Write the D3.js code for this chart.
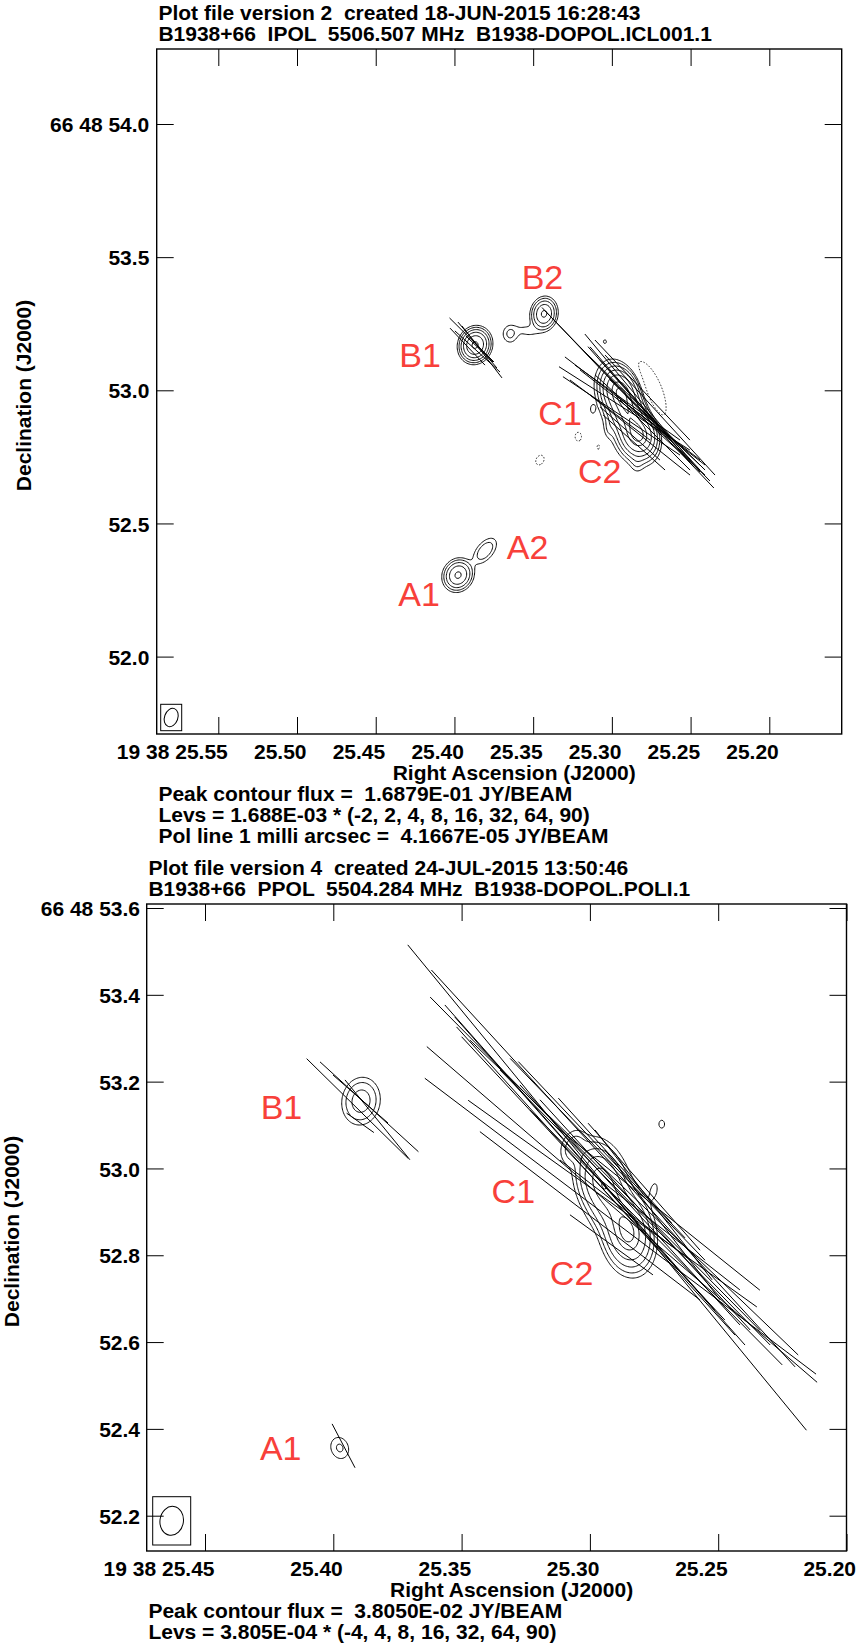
<!DOCTYPE html>
<html>
<head>
<meta charset="utf-8">
<title>B1938+66 polarisation maps</title>
<script src="https://cdn.jsdelivr.net/npm/d3@7/dist/d3.min.js"></script>
<style>
  html, body { margin: 0; padding: 0; background: #fff; }
  svg { display: block; }
  .txt { font-family: "Liberation Sans", Arial, Helvetica, sans-serif; font-weight: bold; font-size: 21px; fill: #000; white-space: pre; }
  .tag { font-family: "Liberation Sans", Arial, Helvetica, sans-serif; font-size: 34px; fill: #f8403a; }
</style>
</head>
<body>
<svg id="chart" width="857" height="1646"></svg>
<script>
// ===== Map 1: total intensity (IPOL) with polarisation vectors =====
const ipolHeader = ["Plot file version 2  created 18-JUN-2015 16:28:43",
                    "B1938+66  IPOL  5506.507 MHz  B1938-DOPOL.ICL001.1"];
const ipolRaTicks = [25.55, 25.50, 25.45, 25.40, 25.35, 25.30, 25.25, 25.20];
const ipolRaLabels = ["19 38 25.55", "25.50", "25.45", "25.40", "25.35", "25.30", "25.25", "25.20"];
const ipolDecTicks = [54.0, 53.5, 53.0, 52.5, 52.0];
const ipolDecLabels = ["66 48 54.0", "53.5", "53.0", "52.5", "52.0"];
const ipolFooter = ["Peak contour flux =  1.6879E-01 JY/BEAM",
                    "Levs = 1.688E-03 * (-2, 2, 4, 8, 16, 32, 64, 90)",
                    "Pol line 1 milli arcsec =  4.1667E-05 JY/BEAM"];
const ipolLevelUnit = 1.688e-3;
const ipolLevelSteps = [-2, 2, 4, 8, 16, 32, 64, 90];
// brightness components: RA (s), Dec (arcsec), peak (Jy/beam), FWHM major / minor (mas), PA (deg)
const ipolComponents = [
  [25.3869, 53.170, 0.120, 66, 58, -20],    // B1
  [25.3647, 53.211, 0.008, 53, 45, 0],      // knot in the B1-B2 bridge
  [25.3539, 53.223, 0.0042, 83, 45, 80],    // bridge
  [25.3431, 53.287, 0.060, 66, 52, -10],    // B2
  [25.2948, 52.994, 0.150, 105, 75, 18],    // C1
  [25.2898, 52.911, 0.110, 105, 75, 18],    // C1-C2 ridge
  [25.2834, 52.832, 0.1688, 95, 75, 15],    // C2
  [25.2900, 52.915, 0.006, 300, 150, 18],   // diffuse emission around C
  [25.2840, 52.730, 0.0045, 55, 36, 0],     // southern tail
  [25.3044, 53.183, 0.004, 23, 19, 0],
  [25.3122, 52.929, 0.0042, 34, 19, 0],
  [25.3018, 52.858, 0.0045, 53, 26, 0],
  [25.3977, 52.306, 0.060, 66, 58, -30],    // A1
  [25.3806, 52.397, 0.012, 83, 45, -40],    // A2
  [25.2771, 52.994, -0.007, 280, 113, 22],  // negative sidelobes
  [25.3213, 52.826, -0.0045, 53, 38, 0],
  [25.3086, 52.788, -0.0042, 45, 23, 0],
  [25.3457, 52.738, -0.0045, 60, 45, -30]
];
// polarisation vectors: RA (s), Dec (arcsec), length (mas), EVPA (deg)
const ipolVectors = [
  [25.3890, 53.189, 235, 45.3], [25.3917, 53.164, 191, 43.4], [25.3854, 53.170, 226, 40.3],
  [25.3854, 53.146, 229, 47.7], [25.3825, 53.144, 246, 37.6], [25.3841, 53.155, 141, 46.1],
  [25.2898, 52.972, 936, 43.6], [25.2901, 52.979, 890, 44.1], [25.2806, 52.952, 675, 39.8],
  [25.2815, 52.938, 602, 41.4], [25.2920, 52.932, 583, 57.5], [25.2939, 52.904, 529, 56.2],
  [25.2869, 52.932, 638, 52.7], [25.2796, 52.926, 643, 45.5], [25.2821, 52.947, 572, 41.0],
  [25.2885, 52.838, 301, 48.4], [25.2859, 52.804, 311, 48.4], [25.2901, 52.954, 485, 54.5],
  [25.2758, 52.870, 558, 47.7], [25.2726, 52.879, 465, 46.6], [25.3012, 52.926, 376, 53.1],
  [25.2726, 52.832, 372, 45.0], [25.2758, 52.907, 558, 42.3], [25.2821, 52.832, 481, 51.3],
  [25.2694, 52.907, 611, 42.5], [25.2917, 52.945, 428, 52.1], [25.2694, 52.851, 428, 52.1],
  [25.2806, 53.001, 518, 43.5]
];
const ipolBeam = [71, 50, -20];   // major, minor (mas), PA (deg)
const ipolTags = [["B1", 25.4350, 53.0886], ["B2", 25.3573, 53.3793], ["C1", 25.3467, 52.8697],
                  ["C2", 25.3215, 52.6508], ["A2", 25.3668, 52.3654], ["A1", 25.4357, 52.190]];

// ===== Map 2: polarised intensity (PPOL) with polarisation vectors =====
const ppolHeader = ["Plot file version 4  created 24-JUL-2015 13:50:46",
                    "B1938+66  PPOL  5504.284 MHz  B1938-DOPOL.POLI.1"];
const ppolRaTicks = [25.45, 25.40, 25.35, 25.30, 25.25, 25.20];
const ppolRaLabels = ["19 38 25.45", "25.40", "25.35", "25.30", "25.25", "25.20"];
const ppolDecTicks = [53.6, 53.4, 53.2, 53.0, 52.8, 52.6, 52.4, 52.2];
const ppolDecLabels = ["66 48 53.6", "53.4", "53.2", "53.0", "52.8", "52.6", "52.4", "52.2"];
const ppolFooter = ["Peak contour flux =  3.8050E-02 JY/BEAM",
                    "Levs = 3.805E-04 * (-4, 4, 8, 16, 32, 64, 90)"];
const ppolLevelUnit = 3.805e-4;
const ppolLevelSteps = [-4, 4, 8, 16, 32, 64, 90];
const ppolComponents = [
  [25.2953, 52.969, 0.032, 101, 62, 15],    // C1
  [25.2852, 52.851, 0.038, 97, 62, 10],     // C2
  [25.2902, 52.911, 0.012, 83, 65, 10],
  [25.3066, 53.049, 0.0045, 60, 41, -20],
  [25.2720, 53.102, 0.0019, 32, 23, 0],
  [25.2750, 52.950, 0.0019, 51, 23, -10],
  [25.3892, 53.155, 0.009, 69, 55, -10],    // B1
  [25.3975, 52.356, 0.0034, 46, 37, 20]     // A1
];
const ppolVectors = [
  [25.2933, 52.956, 1447, 39.4], [25.2909, 53.000, 1240, 42.5], [25.2980, 53.011, 1080, 44.7],
  [25.2875, 52.894, 1186, 49.3], [25.2881, 52.867, 1130, 52.9], [25.2961, 52.971, 1009, 41.5],
  [25.2977, 52.971, 957, 42.1], [25.2987, 52.977, 891, 42.9], [25.2912, 52.919, 818, 54.4],
  [25.3000, 52.891, 638, 52.6], [25.2931, 53.021, 646, 44.0], [25.2954, 53.043, 559, 43.4],
  [25.2902, 53.018, 389, 42.2], [25.2916, 52.824, 236, 54.1], [25.2789, 52.958, 390, 41.4],
  [25.2844, 52.916, 750, 42.5], [25.2785, 52.893, 718, 42.4], [25.2824, 52.910, 888, 44.5],
  [25.2752, 52.916, 438, 38.0], [25.2717, 52.870, 435, 37.5], [25.2863, 52.904, 378, 52.4],
  [25.3039, 53.025, 939, 41.5], [25.2828, 52.933, 1048, 46.2], [25.2742, 52.841, 826, 44.7],
  [25.2727, 52.904, 590, 51.3], [25.2688, 52.847, 410, 51.8],
  [25.3906, 53.138, 328, 45.5], [25.3860, 53.142, 307, 47.6], [25.3894, 53.160, 168, 48.9],
  [25.3895, 53.105, 77, 54.6], [25.3828, 53.112, 237, 39.1],
  [25.3960, 52.361, 114, 27.6]
];
const ppolBeam = [67, 54, -8];
const ppolTags = [["B1", 25.4283, 53.1131], ["C1", 25.3383, 52.9196],
                  ["C2", 25.3156, 52.7313], ["A1", 25.4286, 52.328]];

// ---------------------------------------------------------------------------
const svg = d3.select("#chart");
const FONT = '"Liberation Sans", Arial, Helvetica, sans-serif';

// Sum of elliptical Gaussians sampled on a pixel grid covering the frame
function brightnessGrid(comps, x, y, f, step) {
  const nx = Math.ceil((f.right - f.left) / step) + 1;
  const ny = Math.ceil((f.bottom - f.top) / step) + 1;
  const vals = new Float64Array(nx * ny);
  const masPerPx = Math.abs(y.invert(0) - y.invert(1)) * 1000;
  const k = 4 * Math.LN2;
  for (const [ra, dec, peak, maj, min, pa] of comps) {
    const cx = x(ra), cy = y(dec);
    const t = pa * Math.PI / 180, s = Math.sin(t), c = Math.cos(t);
    const reach = 2.4 * maj / masPerPx;
    const i0 = Math.max(0, Math.floor((cx - reach - f.left) / step));
    const i1 = Math.min(nx - 1, Math.ceil((cx + reach - f.left) / step));
    const j0 = Math.max(0, Math.floor((cy - reach - f.top) / step));
    const j1 = Math.min(ny - 1, Math.ceil((cy + reach - f.top) / step));
    for (let j = j0; j <= j1; j++) {
      const n = (cy - (f.top + j * step)) * masPerPx;
      for (let i = i0; i <= i1; i++) {
        const e = (cx - (f.left + i * step)) * masPerPx;
        const u = e * s + n * c, v = e * c - n * s;
        vals[i + j * nx] += peak * Math.exp(-k * (u * u / (maj * maj) + v * v / (min * min)));
      }
    }
  }
  return { vals, nx, ny, masPerPx };
}

function drawMap(d, cfg) {
  const f = cfg.frame;
  const x = d3.scaleLinear().domain([d.raTicks[0], d.raTicks[d.raTicks.length - 1]]).range(cfg.raRange);
  const y = d3.scaleLinear().domain([d.decTicks[0], d.decTicks[d.decTicks.length - 1]]).range(cfg.decRange);
  const g = svg.append("g");

  const clipId = "clip-" + cfg.id;
  g.append("clipPath").attr("id", clipId).append("rect")
    .attr("x", f.left).attr("y", f.top).attr("width", f.right - f.left).attr("height", f.bottom - f.top);
  const plot = g.append("g").attr("clip-path", `url(#${clipId})`);

  // contour map
  const step = 1.25;
  const grid = brightnessGrid(d.components, x, y, f, step);
  const toPx = d3.geoTransform({
    point(px, py) { this.stream.point(f.left + (px - 0.5) * step, f.top + (py - 0.5) * step); }
  });
  const path = d3.geoPath(toPx);
  const posLevels = d.levelSteps.filter(s => s > 0).map(s => s * d.levelUnit);
  const negLevels = d.levelSteps.filter(s => s < 0).map(s => -s * d.levelUnit);
  const contours = d3.contours().size([grid.nx, grid.ny]);
  plot.append("g").selectAll("path")
    .data(contours.thresholds(posLevels)(Array.from(grid.vals)))
    .join("path").attr("d", path)
    .attr("fill", "none").attr("stroke", "#000").attr("stroke-width", 0.95);
  plot.append("g").selectAll("path")
    .data(contours.thresholds(negLevels)(Array.from(grid.vals, v => -v)))
    .join("path").attr("d", path)
    .attr("fill", "none").attr("stroke", "#000").attr("stroke-width", 0.8)
    .attr("stroke-dasharray", "1.6,1.6");

  // polarisation vectors
  plot.append("g").selectAll("line").data(d.vectors).join("line")
    .each(function ([ra, dec, len, pa]) {
      const cx = x(ra), cy = y(dec), h = len / grid.masPerPx / 2;
      const t = pa * Math.PI / 180, ux = -Math.sin(t), uy = -Math.cos(t);
      d3.select(this).attr("x1", cx + ux * h).attr("y1", cy + uy * h)
        .attr("x2", cx - ux * h).attr("y2", cy - uy * h);
    })
    .attr("stroke", "#000").attr("stroke-width", 1);

  // restoring beam in its box
  const b = cfg.beamBox;
  const bx = f.left + b.inset[0], by = f.bottom - b.inset[1] - b.h;
  g.append("rect").attr("x", bx).attr("y", by).attr("width", b.w).attr("height", b.h)
    .attr("fill", "none").attr("stroke", "#000").attr("stroke-width", 1);
  g.append("ellipse").attr("cx", 0).attr("cy", 0)
    .attr("rx", d.beam[1] / grid.masPerPx / 2).attr("ry", d.beam[0] / grid.masPerPx / 2)
    .attr("transform", `translate(${bx + b.w / 2},${by + b.h / 2}) rotate(${-d.beam[2]})`)
    .attr("fill", "none").attr("stroke", "#000").attr("stroke-width", 1);

  // component names
  g.append("g").selectAll("text").data(d.tags).join("text")
    .attr("class", "tag").attr("x", t => x(t[1])).attr("y", t => y(t[2])).text(t => t[0]);

  // axes: inward ticks on all four sides, labels on bottom and left
  const T = 17;
  const styleAxis = sel => {
    sel.select(".domain").remove();
    sel.attr("font-family", FONT).attr("font-size", 21).attr("font-weight", "bold");
    sel.selectAll(".tick line").attr("stroke", "#000").attr("stroke-width", 1);
    sel.selectAll(".tick text").attr("fill", "#000");
  };
  g.append("g").attr("transform", `translate(0,${f.bottom})`)
    .call(d3.axisBottom(x).tickValues(d.raTicks).tickFormat((v, i) => d.raLabels[i])
      .tickSizeInner(-T).tickSizeOuter(0).tickPadding(10.4))
    .call(styleAxis)
    .call(a => a.selectAll(".tick text").attr("text-anchor", "end").attr("x", 9));
  g.append("g").attr("transform", `translate(0,${f.top})`)
    .call(d3.axisTop(x).tickValues(d.raTicks).tickFormat(() => "").tickSizeInner(-T).tickSizeOuter(0))
    .call(styleAxis);
  g.append("g").attr("transform", `translate(${f.left},0)`)
    .call(d3.axisLeft(y).tickValues(d.decTicks).tickFormat((v, i) => d.decLabels[i])
      .tickSizeInner(-T).tickSizeOuter(0).tickPadding(cfg.decPad))
    .call(styleAxis)
    .call(a => a.selectAll(".tick text").attr("dy", "0.36em"));
  g.append("g").attr("transform", `translate(${f.right},0)`)
    .call(d3.axisRight(y).tickValues(d.decTicks).tickFormat(() => "").tickSizeInner(-T).tickSizeOuter(0))
    .call(styleAxis);

  // frame
  g.append("rect").attr("x", f.left).attr("y", f.top)
    .attr("width", f.right - f.left).attr("height", f.bottom - f.top)
    .attr("fill", "none").attr("stroke", "#000").attr("stroke-width", 1.4);

  // header, axis titles and footer notes
  g.selectAll("text.head").data(d.header).join("text").attr("class", "txt head")
    .attr("xml:space", "preserve")
    .attr("x", f.left + 1.7).attr("y", (t, i) => f.top - 8 - (1 - i) * 21).text(t => t);
  g.append("text").attr("class", "txt").attr("text-anchor", "middle")
    .attr("x", (f.left + f.right) / 2 + 15).attr("y", f.bottom + 46.3).text("Right Ascension (J2000)");
  g.append("text").attr("class", "txt").attr("text-anchor", "middle")
    .attr("transform", `translate(${cfg.decTitleX},${(f.top + f.bottom) / 2 + 4}) rotate(-90)`)
    .text("Declination (J2000)");
  g.selectAll("text.foot").data(d.footer).join("text").attr("class", "txt foot")
    .attr("xml:space", "preserve")
    .attr("x", f.left + 1.7).attr("y", (t, i) => f.bottom + 67.3 + i * 21).text(t => t);
}

drawMap({
  header: ipolHeader, raTicks: ipolRaTicks, raLabels: ipolRaLabels, decTicks: ipolDecTicks,
  decLabels: ipolDecLabels, footer: ipolFooter, levelUnit: ipolLevelUnit, levelSteps: ipolLevelSteps,
  components: ipolComponents, vectors: ipolVectors, beam: ipolBeam, tags: ipolTags
}, {
  id: "ipol",
  frame: { left: 156.7, right: 841.7, top: 49, bottom: 734 },
  raRange: [218.3, 769.3], decRange: [124, 656.6],
  beamBox: { w: 21, h: 26.4, inset: [4, 3.3] },
  decPad: 7.4, decTitleX: 30.5
});

drawMap({
  header: ppolHeader, raTicks: ppolRaTicks, raLabels: ppolRaLabels, decTicks: ppolDecTicks,
  decLabels: ppolDecLabels, footer: ppolFooter, levelUnit: ppolLevelUnit, levelSteps: ppolLevelSteps,
  components: ppolComponents, vectors: ppolVectors, beam: ppolBeam, tags: ppolTags
}, {
  id: "ppol",
  frame: { left: 146.7, right: 846.5, top: 904, bottom: 1551 },
  raRange: [205, 846.5], decRange: [908, 1515.7],
  beamBox: { w: 38, h: 48.3, inset: [6, 6] },
  decPad: 6.7, decTitleX: 19
});
</script>
</body>
</html>
